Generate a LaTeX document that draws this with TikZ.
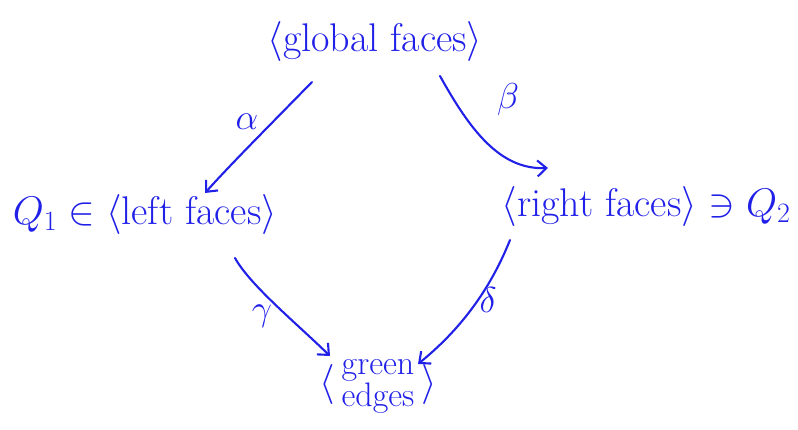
\RequirePackage{fix-cm}
\documentclass[tikz,border=0pt]{standalone}
\usepackage{fontspec}
\usetikzlibrary{arrows.meta}
\definecolor{ink}{RGB}{32,32,232}
\begin{document}
\begin{tikzpicture}[x=1pt,y=-1pt,
  lbl/.style={text=ink,font=\fontsize{40}{31}\selectfont,inner sep=0pt},
  glab/.style={text=ink,font=\fontsize{36}{40}\selectfont,inner sep=0pt},
  arr/.style={draw=ink,line width=2.1pt,line cap=round,-{Straight Barb[length=9pt,width=16pt,line width=2.1pt]}}]
\useasboundingbox (0,0) rectangle (798,430);
\node[lbl] (global) at (375,42) {$\langle$global faces$\rangle$};
\node[lbl] (left) at (145,215) {$Q_1\in\langle$left faces$\rangle$};
\node[lbl] (right) at (646,207) {$\langle$right faces$\rangle\ni Q_2$};
\node[lbl] (green) at (378,390) {$\left\langle\vrule height 30pt depth 30pt width 0pt\,\vcenter{\hbox{\fontsize{34}{28}\selectfont\begin{tabular}{@{}c@{}}green\\edges\end{tabular}}}\,\right\rangle$};
\coordinate (a1) at (312,82);
\coordinate (a2) at (205,193);
\coordinate (b1) at (440,76);
\coordinate (b2) at (548,168);
\coordinate (c1) at (235,258);
\coordinate (c2) at (330,356);
\coordinate (d1) at (510,240);
\coordinate (d2) at (418,364);
\draw[arr] (a1) .. controls (270,125) and (230,165) .. (a2);
\draw[arr] (b1) .. controls (470,130) and (500,170) .. (b2);
\draw[arr] (c1) .. controls (250,285) and (295,322) .. (c2);
\draw[arr] (d1) .. controls (490,290) and (460,330) .. (d2);
\node[glab] (alpha) at (247,122) {$\alpha$};
\node[glab] (beta) at (508,100) {$\beta$};
\node[glab] (gamma) at (262,316) {$\gamma$};
\node[glab] (delta) at (488,300) {$\delta$};
\end{tikzpicture}
\end{document}
